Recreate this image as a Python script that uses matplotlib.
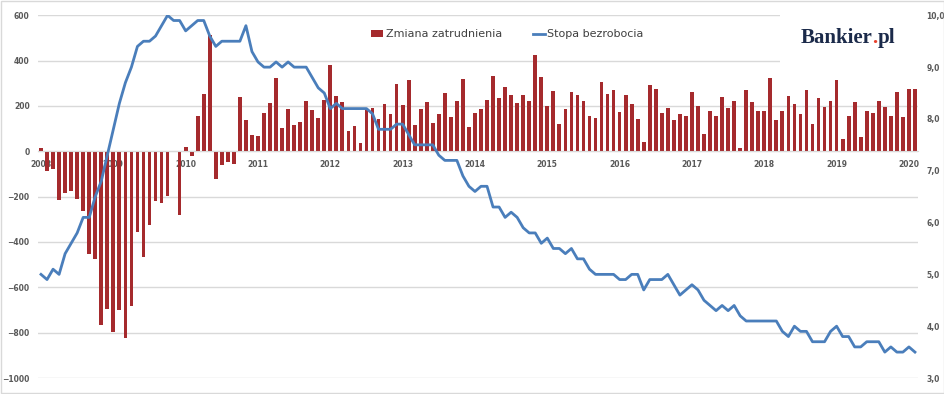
import matplotlib.pyplot as plt
from matplotlib.patches import Patch, Rectangle
from matplotlib.lines import Line2D

# Monthly data Jan 2008 - Feb 2020
years = [str(y) for y in range(2008, 2021)]

# change in employment (thousands)
jobs_2008 = [15, -85, -80, -215, -182, -174, -210, -262, -453, -475, -767, -696]
jobs_2009 = [-796, -700, -825, -682, -355, -465, -325, -218, -227, -197, -5, -281]
jobs_2010 = [19, -19, 157, 251, 513, -122, -60, -46, -56, 241, 138, 70]
jobs_2011 = [68, 168, 212, 322, 104, 187, 116, 128, 223, 182, 146, 226]
jobs_2012 = [381, 245, 217, 90, 113, 35, 185, 189, 143, 211, 164, 295]
jobs_2013 = [203, 315, 115, 188, 219, 127, 164, 256, 150, 223, 317, 109]
jobs_2014 = [168, 188, 225, 332, 237, 285, 250, 213, 250, 221, 425, 329]
jobs_2015 = [201, 265, 119, 188, 260, 247, 222, 154, 146, 307, 253, 269]
jobs_2016 = [173, 247, 210, 143, 43, 292, 276, 168, 191, 137, 164, 156]
jobs_2017 = [260, 201, 75, 176, 157, 238, 191, 221, 13, 270, 217, 176]
jobs_2018 = [176, 322, 137, 176, 244, 210, 164, 270, 119, 237, 197, 223]
jobs_2019 = [313, 56, 154, 217, 62, 178, 168, 221, 194, 157, 263, 150]
jobs_2020 = [273, 273]

# unemployment rate (%)
rate_2008 = [5.0, 4.9, 5.1, 5.0, 5.4, 5.6, 5.8, 6.1, 6.1, 6.5, 6.8, 7.3]
rate_2009 = [7.8, 8.3, 8.7, 9.0, 9.4, 9.5, 9.5, 9.6, 9.8, 10.0, 9.9, 9.9]
rate_2010 = [9.7, 9.8, 9.9, 9.9, 9.6, 9.4, 9.5, 9.5, 9.5, 9.5, 9.8, 9.3]
rate_2011 = [9.1, 9.0, 9.0, 9.1, 9.0, 9.1, 9.0, 9.0, 9.0, 8.8, 8.6, 8.5]
rate_2012 = [8.2, 8.3, 8.2, 8.2, 8.2, 8.2, 8.2, 8.1, 7.8, 7.8, 7.8, 7.9]
rate_2013 = [7.9, 7.7, 7.5, 7.5, 7.5, 7.5, 7.3, 7.2, 7.2, 7.2, 6.9, 6.7]
rate_2014 = [6.6, 6.7, 6.7, 6.3, 6.3, 6.1, 6.2, 6.1, 5.9, 5.8, 5.8, 5.6]
rate_2015 = [5.7, 5.5, 5.5, 5.4, 5.5, 5.3, 5.3, 5.1, 5.0, 5.0, 5.0, 5.0]
rate_2016 = [4.9, 4.9, 5.0, 5.0, 4.7, 4.9, 4.9, 4.9, 5.0, 4.8, 4.6, 4.7]
rate_2017 = [4.8, 4.7, 4.5, 4.4, 4.3, 4.4, 4.3, 4.4, 4.2, 4.1, 4.1, 4.1]
rate_2018 = [4.1, 4.1, 4.1, 3.9, 3.8, 4.0, 3.9, 3.9, 3.7, 3.7, 3.7, 3.9]
rate_2019 = [4.0, 3.8, 3.8, 3.6, 3.6, 3.7, 3.7, 3.7, 3.5, 3.6, 3.5, 3.5]
rate_2020 = [3.6, 3.5]

jobs = (jobs_2008 + jobs_2009 + jobs_2010 + jobs_2011 + jobs_2012 + jobs_2013 + jobs_2014
        + jobs_2015 + jobs_2016 + jobs_2017 + jobs_2018 + jobs_2019 + jobs_2020)
rate = (rate_2008 + rate_2009 + rate_2010 + rate_2011 + rate_2012 + rate_2013 + rate_2014
        + rate_2015 + rate_2016 + rate_2017 + rate_2018 + rate_2019 + rate_2020)
months = list(range(len(jobs)))

bar_color = '#A52A2D'
line_color = '#4A7EBB'
tick_color = '#595959'
navy = '#1B2A4A'

fig = plt.figure(figsize=(9.45, 3.94), dpi=100)
ax = fig.add_axes([0.0402, 0.0406, 0.9312, 0.9205])
ax.set_axisbelow(True)

# bars - employment change
ax.bar(months, jobs, width=0.62, color=bar_color, zorder=2)
ax.set_xlim(-0.5, len(months) - 0.5)
ax.set_ylim(-1000, 600)
ax.set_yticks(range(-1000, 601, 200))
ax.yaxis.grid(True, color='#d9d9d9', linewidth=1)
for s in ['top', 'right', 'left']:
    ax.spines[s].set_visible(False)
ax.spines['bottom'].set_position(('data', 0))
ax.spines['bottom'].set_color('#d9d9d9')
ax.set_xticks(range(0, len(months), 12))
ax.set_xticklabels(years)
ax.tick_params(axis='x', length=0, pad=6, labelsize=5.5, labelcolor=tick_color)
ax.tick_params(axis='y', length=0, pad=6, labelsize=5.5, labelcolor=tick_color)
for lab in ax.get_xticklabels() + ax.get_yticklabels():
    lab.set_fontweight('bold')

# line - unemployment rate on the right axis
ax2 = ax.twinx()
ax2.plot(months, rate, color=line_color, linewidth=2.0, solid_joinstyle='round')
ax2.set_ylim(3, 10)
ax2.set_yticks(range(3, 11))
ax2.set_yticklabels([f"{v},0" for v in range(3, 11)])
ax2.tick_params(axis='y', length=0, pad=6, labelsize=5.5, labelcolor=tick_color)
for lab in ax2.get_yticklabels():
    lab.set_fontweight('bold')
for s in ax2.spines.values():
    s.set_visible(False)

# legend
handles = [Patch(facecolor=bar_color, edgecolor='none'),
           Line2D([0], [0], color=line_color, linewidth=2.0)]
fig.legend(handles, ['Zmiana zatrudnienia', 'Stopa bezrobocia'], loc='center',
           bbox_to_anchor=(0.537, 0.913), ncol=2, frameon=False, fontsize=8,
           labelcolor='#404040', handlelength=1.1, handleheight=0.6,
           handletextpad=0.2, columnspacing=2.8)

# logo with white box over gridlines
fig.add_artist(Rectangle((0.825, 0.83), 0.15, 0.15, transform=fig.transFigure,
                         facecolor='white', edgecolor='none', zorder=5))
logo_font = dict(fontsize=15, fontweight='bold', family='Liberation Serif',
                 va='baseline', zorder=6)
t1 = fig.text(0.847, 0.89, 'Bankier', color=navy, **logo_font)
fig.canvas.draw()
x_dot = fig.transFigure.inverted().transform(t1.get_window_extent().p1)[0]
t2 = fig.text(x_dot, 0.89, '.', color='#E8412C', **logo_font)
fig.canvas.draw()
x_pl = fig.transFigure.inverted().transform(t2.get_window_extent().p1)[0]
fig.text(x_pl, 0.89, 'pl', color=navy, **logo_font)

# outer frame
fig.add_artist(Rectangle((0.001, 0.003), 0.998, 0.994, transform=fig.transFigure,
                         facecolor='none', edgecolor='#d9d9d9', linewidth=1))

plt.savefig('out.png', dpi=100)
